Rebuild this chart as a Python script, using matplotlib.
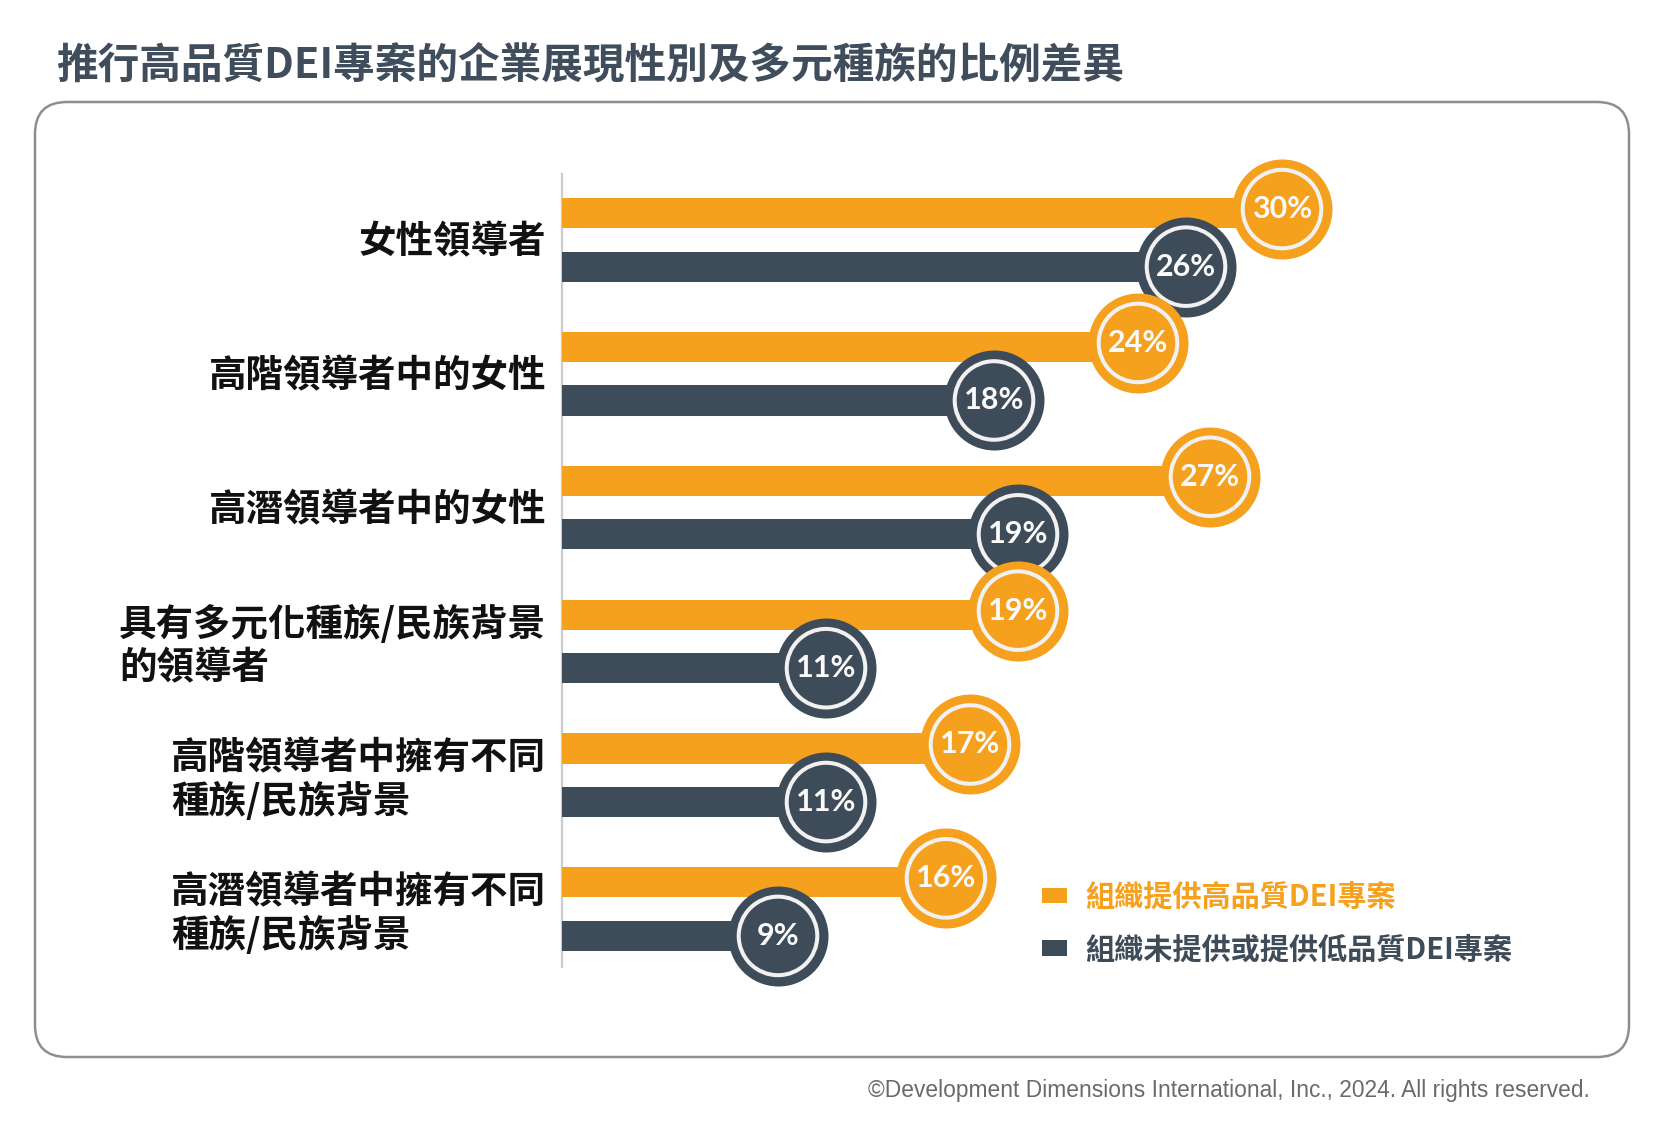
import matplotlib.pyplot as plt
from matplotlib.patches import FancyBboxPatch
from matplotlib.transforms import IdentityTransform

plt.rcParams['font.family'] = ['Noto Sans CJK TC', 'DejaVu Sans']

title = '推行高品質DEI專案的企業展現性別及多元種族的比例差異'
categories = ['女性領導者', '高階領導者中的女性', '高潛領導者中的女性',
              '具有多元化種族/民族背景\n的領導者',
              '高階領導者中擁有不同\n種族/民族背景',
              '高潛領導者中擁有不同\n種族/民族背景']
high_quality = [30, 24, 27, 19, 17, 16]
low_quality = [26, 18, 19, 11, 11, 9]
series_names = ['組織提供高品質DEI專案', '組織未提供或提供低品質DEI專案']
credit = '©Development Dimensions International, Inc., 2024. All rights reserved.'

ORANGE = '#F6A11D'
DARK = '#3E4C5A'
W, H = 1662, 1125

fig = plt.figure(figsize=(W / 100, H / 100), dpi=100)

# rounded frame, in pixels
frame = FancyBboxPatch((35, H - 1057), 1594, 955, boxstyle='round,pad=0,rounding_size=32',
                       transform=IdentityTransform(), facecolor='white',
                       edgecolor='#8f8f8f', linewidth=1.8, zorder=0)
fig.add_artist(frame)

fig.text(56 / W, 1 - 66 / H, title, fontsize=30, fontweight='bold', color='#3F4D5C',
         ha='left', va='center')

ax = fig.add_axes([562 / W, 1 - 1043 / H, 1000 / W, 937 / H])
ax.set_xlim(0, 1000 / 24)
ax.set_ylim(6.0, -1.0)
ax.axis('off')
ax.patch.set_alpha(0)

off = 0.2
bh = 0.225
ypos = list(range(len(categories)))
y_hi = [y - off for y in ypos]
y_lo = [y + off for y in ypos]

ax.plot([0, 0], [-0.49, 5.43], color='#c9ccd0', lw=1.6, zorder=1, clip_on=False)

ax.barh(y_hi, high_quality, height=bh, color=ORANGE, zorder=2, label=series_names[0])
ax.barh(y_lo, low_quality, height=bh, color=DARK, zorder=2, label=series_names[1])

z = 3
for i in ypos:
    for v, y, c in [(high_quality[i], y_hi[i] - 0.03, ORANGE), (low_quality[i], y_lo[i], DARK)]:
        ax.scatter([v], [y], s=5184, color=c, zorder=z, clip_on=False, linewidths=0)
        ax.scatter([v], [y], s=3200, facecolors='none', edgecolors='#F1F1F1',
                   linewidths=2.9, zorder=z + 0.1, clip_on=False)
        ax.text(v, y, f'{v}%', color='#FAFAFA', fontsize=22, fontweight='bold',
                family=['Lato', 'DejaVu Sans'], ha='center', va='center',
                zorder=z + 0.2)
        z += 1

for i, lab in enumerate(categories):
    dy = 0.035 if '\n' in lab else 0.015
    ax.text(-16 / 24, i + dy, lab, fontsize=27, fontweight='bold', color='#111111',
            ha='right', va='center', multialignment='left', linespacing=1.15)

leg = ax.legend(loc='upper left', bbox_to_anchor=(1042 / W, 1 - 882 / H),
                bbox_transform=fig.transFigure, frameon=False,
                prop={'size': 21, 'weight': 'bold'},
                handlelength=0.86, handleheight=0.42, handletextpad=0.62,
                labelspacing=0.77, borderpad=0, borderaxespad=0)
for t, c in zip(leg.get_texts(), [ORANGE, DARK]):
    t.set_color(c)

fig.text(1590 / W, 1 - 1090 / H, credit, fontsize=16.4, color='#6a6a6a',
         family=['Liberation Sans Narrow', 'Liberation Sans', 'DejaVu Sans'],
         ha='right', va='center')

fig.savefig('out.png', dpi=100)
